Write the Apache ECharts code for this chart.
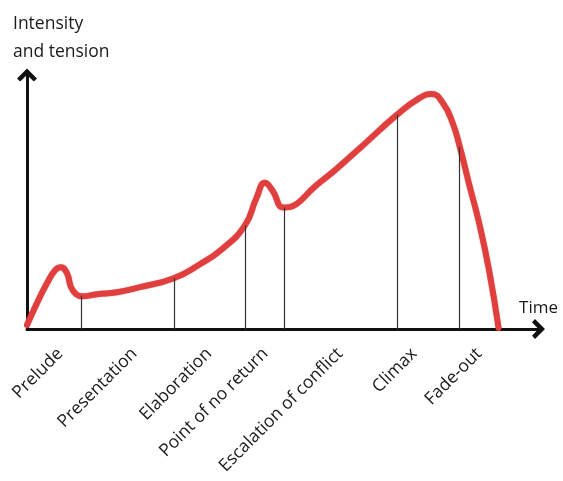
<!DOCTYPE html>
<html>
<head>
<meta charset="utf-8">
<script src="https://cdn.jsdelivr.net/npm/echarts@6/dist/echarts.min.js"></script>
<style>html,body{margin:0;padding:0;background:#fff}#c{width:563px;height:481px}</style>
</head>
<body>
<div id="c"></div>
<script>
// Curve of intensity over time (time 0-100, intensity 0-100)
var curveTime = [0, 1.95, 3.9, 5.5, 6.6, 7.8, 8.6, 9.6, 10.7, 13.7, 17.6, 22.1, 28.7, 33.8, 38.1, 42.6, 44.9, 46.5, 48.0, 50.2, 57.2, 64.5, 72.3, 76.8, 79.1, 81.3, 83.2, 84.6, 86.5, 88.5, 90.4, 92.2];
var curveIntensity = [1.6, 10.2, 18.0, 23.1, 24.3, 22.0, 16.5, 13.7, 12.9, 13.7, 14.5, 16.5, 20.0, 25.5, 31.4, 40.8, 51.8, 57.6, 54.5, 47.8, 57.6, 70.2, 84.3, 91.0, 92.5, 89.0, 81.2, 71.8, 56.5, 40.8, 22.4, 0.4];
// Vertical guide lines
var guideTime = [10.7, 28.7, 42.6, 50.2, 72.3, 84.6];
var guideTop = [12.9, 20.0, 40.8, 47.8, 84.3, 71.8];
// Stage labels
var stageNames = ['Prelude', 'Presentation', 'Elaboration', 'Point of no return', 'Escalation of conflict', 'Climax', 'Fade-out'];
var stageTime = [6.5, 21.0, 35.6, 46.6, 61.2, 75.7, 88.4];

var FONT = '"Open Sans", sans-serif';
var chevron = 'path://M0,10 L10,0 L20,10 L16.8,13 L10,6.6 L3.2,13 Z';

var chart = echarts.init(document.getElementById('c'), null, {renderer: 'canvas'});
var curveData = curveTime.map(function (t, i) { return [t, curveIntensity[i]]; });
var guides = guideTime.map(function (t, i) { return [{coord: [t, 0]}, {coord: [t, guideTop[i]]}]; });

chart.setOption({
  animation: false,
  backgroundColor: '#fff',
  title: {
    text: 'Intensity\nand tension',
    left: 8, top: 5,
    textStyle: {fontFamily: FONT, fontSize: 17.5, fontWeight: 500, color: '#1a1a1a', lineHeight: 28}
  },
  grid: {left: 27, right: 24.5, top: 75, bottom: 152},
  xAxis: {
    type: 'value', min: 0, max: 100,
    name: 'Time', nameLocation: 'end', nameGap: 0,
    nameTextStyle: {fontFamily: FONT, fontSize: 17, color: '#1a1a1a', align: 'center', verticalAlign: 'bottom', padding: [0, 0, 12, 0]},
    axisLine: {show: true, onZero: false, lineStyle: {color: '#111', width: 3}, symbol: ['none', chevron], symbolSize: [22, 13]},
    axisTick: {show: false},
    splitLine: {show: false},
    axisLabel: {
      customValues: stageTime,
      rotate: 45, margin: 22,
      fontFamily: FONT, fontSize: 17.5, color: '#1a1a1a',
      formatter: function (v) {
        var i = stageTime.indexOf(v);
        return i >= 0 ? stageNames[i] : '';
      }
    }
  },
  yAxis: {
    type: 'value', min: 0, max: 100,
    axisLine: {show: true, lineStyle: {color: '#111', width: 3}, symbol: ['none', chevron], symbolSize: [22, 13]},
    axisTick: {show: false},
    axisLabel: {show: false},
    splitLine: {show: false}
  },
  series: [
    {
      type: 'line', data: [], z: 1, silent: true,
      markLine: {
        silent: true, symbol: ['none', 'none'],
        label: {show: false},
        lineStyle: {color: '#333', width: 1.2, type: 'solid'},
        data: guides
      }
    },
    {
      type: 'line', data: curveData, z: 3,
      smooth: 0.5, showSymbol: false, silent: true,
      lineStyle: {color: '#e03f3d', width: 6, cap: 'round', join: 'round', shadowColor: 'rgba(140,0,0,0.35)', shadowBlur: 1.5}
    }
  ]
});
</script>
</body>
</html>
